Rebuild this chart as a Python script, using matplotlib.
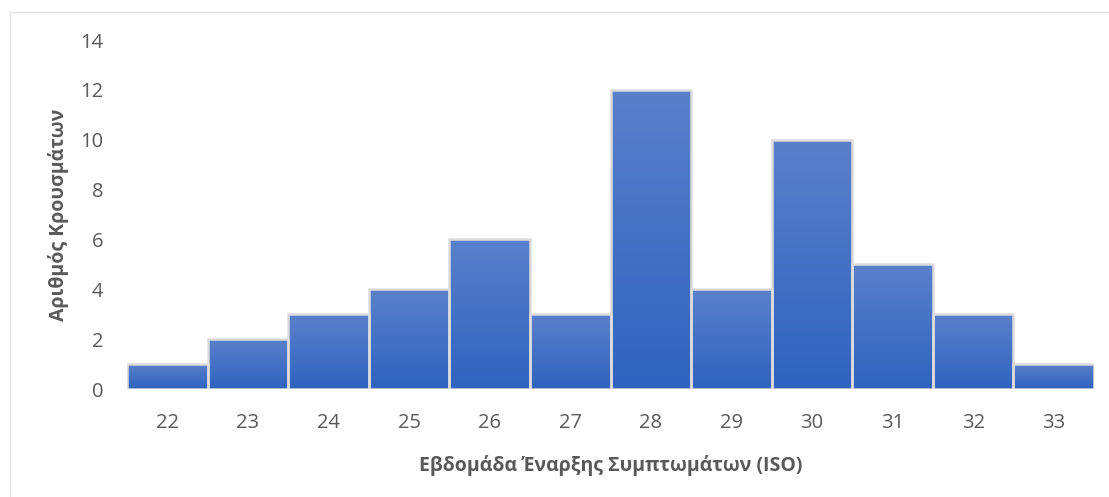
import matplotlib.pyplot as plt
import numpy as np
from matplotlib.colors import LinearSegmentedColormap
from matplotlib.patches import Rectangle

weeks = [22, 23, 24, 25, 26, 27, 28, 29, 30, 31, 32, 33]
cases = [1, 2, 3, 4, 6, 3, 12, 4, 10, 5, 3, 1]
yticks = [0, 2, 4, 6, 8, 10, 12, 14]

plt.rcParams['font.family'] = ['Open Sans', 'DejaVu Sans']
gray = '#595959'
grad = LinearSegmentedColormap.from_list('bar', ['#2f63bf', '#5a80cb'])

fig = plt.figure(figsize=(11.09, 4.97), dpi=100)
ax = fig.add_axes([0.1145, 0.2173, 0.872, 0.7022])

# light frame around the chart (runs off the right and bottom edges)
fig.patches.append(Rectangle((10/1109, -0.05), 1.0, 1.05 - 12/497, transform=fig.transFigure,
                             fill=False, edgecolor='#e3e3e3', linewidth=1))

bars = ax.bar(weeks, cases, width=1.0, color='none', edgecolor='#dcdcdc', linewidth=1.8, zorder=3)
g = np.linspace(0, 1, 256).reshape(-1, 1)
for b in bars:
    x0, w, h = b.get_x(), b.get_width(), b.get_height()
    im = ax.imshow(g, cmap=grad, origin='lower', aspect='auto',
                   extent=(x0, x0 + w, 0, h), zorder=2)
    im.set_clip_path(b)

ax.set_xlim(21.5, 33.5)
ax.set_ylim(0, 14)
ax.set_xticks(weeks)
ax.set_yticks(yticks)
ax.tick_params(length=0, labelsize=14.5, labelcolor=gray)
ax.tick_params(axis='y', pad=17)
ax.tick_params(axis='x', pad=17)
for s in ax.spines.values():
    s.set_visible(False)

ax.set_xlabel('Εβδομάδα Έναρξης Συμπτωμάτων (ISO)', fontsize=14, fontweight='bold',
              color=gray, labelpad=16)
ax.set_ylabel('Αριθμός Κρουσμάτων', fontsize=14, fontweight='bold', color=gray, labelpad=8)

fig.savefig('out.png', dpi=100)
